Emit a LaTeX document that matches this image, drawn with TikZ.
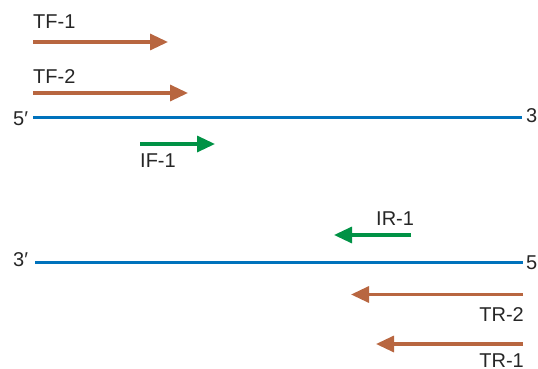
\documentclass[tikz,border=0pt]{standalone}
\usepackage{fontspec}
\setmainfont{Liberation Sans}
\usetikzlibrary{arrows.meta}
\definecolor{strandblue}{RGB}{0,114,188}
\definecolor{primerbrown}{RGB}{184,102,64}
\definecolor{primergreen}{RGB}{0,146,69}
\begin{document}
\begin{tikzpicture}[x=1pt,y=-1pt,
  lbl/.style={inner sep=0pt,font=\fontsize{20}{22}\selectfont,text=black!85},
  strand/.style={draw=strandblue,line width=3pt},
  outer/.style={draw=primerbrown,line width=3.3pt,-{Triangle[length=18pt,width=16pt]}},
  inner/.style={draw=primergreen,line width=3.3pt,-{Triangle[length=18pt,width=16pt]}}]
\useasboundingbox (0,0) rectangle (538,369);
% strands
\coordinate (s1a) at (33,117);
\coordinate (s1b) at (522,117);
\coordinate (s2a) at (35,262);
\coordinate (s2b) at (523,262);
\draw[strand] (s1a) -- (s1b);
\draw[strand] (s2a) -- (s2b);
\node[lbl,anchor=west] (p5a) at (13,119) {5′};
\node[lbl,anchor=west] (p3a) at (526,116) {3′};
\node[lbl,anchor=west] (p3b) at (13,260) {3′};
\node[lbl,anchor=west] (p5b) at (526,263) {5′};
% forward primers
\coordinate (tf1a) at (33,42);  \coordinate (tf1b) at (168,42);
\coordinate (tf2a) at (33,93);  \coordinate (tf2b) at (188,93);
\coordinate (if1a) at (140,144); \coordinate (if1b) at (215,144);
\draw[outer] (tf1a) -- (tf1b);
\draw[outer] (tf2a) -- (tf2b);
\draw[inner] (if1a) -- (if1b);
\node[lbl,anchor=west] (ltf1) at (33,22) {TF-1};
\node[lbl,anchor=west] (ltf2) at (33,76.5) {TF-2};
\node[lbl,anchor=west] (lif1) at (140,161) {IF-1};
% reverse primers
\coordinate (ir1a) at (411,235); \coordinate (ir1b) at (334,235);
\coordinate (tr2a) at (523,294.5); \coordinate (tr2b) at (351,294.5);
\coordinate (tr1a) at (523,344); \coordinate (tr1b) at (376,344);
\draw[inner] (ir1a) -- (ir1b);
\draw[outer] (tr2a) -- (tr2b);
\draw[outer] (tr1a) -- (tr1b);
\node[lbl,anchor=west] (lir1) at (376,219) {IR-1};
\node[lbl,anchor=east] (ltr2) at (524,314.5) {TR-2};
\node[lbl,anchor=east] (ltr1) at (524,361) {TR-1};
\end{tikzpicture}
\end{document}
